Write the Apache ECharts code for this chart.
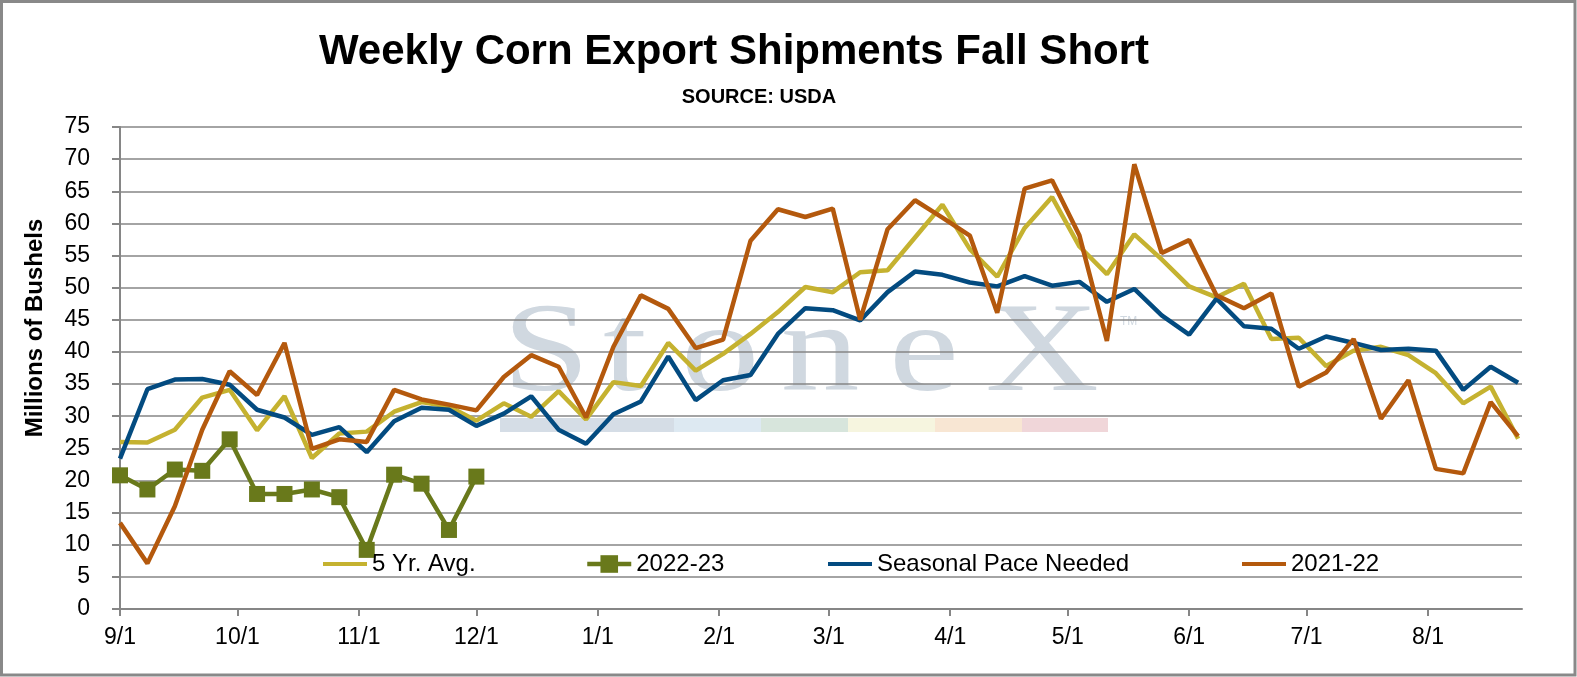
<!DOCTYPE html>
<html>
<head>
<meta charset="utf-8">
<script src="https://cdn.jsdelivr.net/npm/echarts@6/dist/echarts.min.js"></script>
<style>
html,body{margin:0;padding:0;background:#fff;}
#chart{width:1577px;height:677px;}
</style>
</head>
<body>
<div id="chart"></div>
<script>
// Weekly dates (week ending), 2022-23 marketing year
const weekDates = ['9/1','9/8','9/15','9/22','9/29','10/6','10/13','10/20','10/27','11/3','11/10','11/17','11/24',
  '12/1','12/8','12/15','12/22','12/29','1/5','1/12','1/19','1/26','2/2','2/9','2/16','2/23',
  '3/2','3/9','3/16','3/23','3/30','4/6','4/13','4/20','4/27','5/4','5/11','5/18','5/25',
  '6/1','6/8','6/15','6/22','6/29','7/6','7/13','7/20','7/27','8/3','8/10','8/17','8/24'];

const fiveYrAvg = [26.0,25.9,27.9,32.9,34.1,27.8,33.1,23.5,27.3,27.6,30.7,32.2,31.5,
  29.3,32.0,29.9,33.9,29.5,35.3,34.7,41.4,37.1,39.7,42.8,46.2,50.1,
  49.3,52.4,52.7,57.8,62.9,56.0,51.7,59.3,64.1,56.4,52.1,58.3,54.4,
  50.2,48.5,50.6,42.0,42.2,37.8,40.2,40.8,39.5,36.7,32.0,34.6,26.5];

const y2022_23 = [20.8,18.6,21.7,21.5,26.4,17.9,17.9,18.6,17.4,9.2,20.9,19.5,12.3,20.6];

const seasonalPace = [23.4,34.2,35.7,35.8,34.9,31.0,29.8,27.1,28.3,24.4,29.2,31.3,31.0,
  28.5,30.4,33.1,27.9,25.7,30.3,32.3,39.3,32.5,35.6,36.4,42.8,46.8,
  46.5,44.9,49.3,52.5,52.0,50.8,50.2,51.8,50.3,50.9,47.8,49.8,45.7,
  42.7,48.3,44.0,43.6,40.5,42.4,41.4,40.3,40.5,40.2,34.1,37.7,35.2];

const y2021_22 = [13.4,7.1,16.0,27.9,37.0,33.3,41.4,24.9,26.4,26.0,34.1,32.6,31.8,
  30.9,36.1,39.5,37.7,29.8,40.8,48.8,46.7,40.6,41.9,57.3,62.2,61.0,
  62.3,45.0,59.1,63.6,60.9,58.1,46.1,65.4,66.7,58.1,41.7,69.2,55.4,
  57.4,48.8,46.8,49.1,34.6,36.8,42.0,29.6,35.6,21.8,21.1,32.2,26.9];

const seriesNames = ['5 Yr. Avg.','2022-23','Seasonal Pace Needed','2021-22'];
const yTicks = {min:0, max:75, interval:5};

// daily category axis 9/1 .. 8/25
const dayLabels = [];
(function(){
  const d = new Date(2022, 8, 1);
  for (let i = 0; i < 359; i++) {
    dayLabels.push((d.getMonth()+1) + '/' + d.getDate());
    d.setDate(d.getDate()+1);
  }
})();
const isMonthStart = (idx, val) => String(val).split('/')[1] === '1';

const pair = (arr) => arr.map((v,i) => [weekDates[i], v]);

const FONT = 'Liberation Sans, Arial, sans-serif';
const GRAY = '#868686';
const C_YEL = '#C5B230', C_GRN = '#69791B', C_BLU = '#034B80', C_ORG = '#B4590D';
const LW = 4.5;

const chart = echarts.init(document.getElementById('chart'), null, {renderer:'canvas'});

const legendBase = {
  orient:'horizontal', padding:0, itemGap:0, itemWidth:44, top:552,
  selectedMode:false,
  textStyle:{fontFamily:FONT, fontSize:24, color:'#000'}
};
const lineLegend = (name, left) => Object.assign({}, legendBase, {
  data:[{name:name, icon:'rect'}], left:left, itemHeight:4
});

const wmColor = '#d0d8e0';
const wmLetters = [['S',546],['t',625],['o',720],['n',820],['e',924],['X',1042]];
const stripSegs = [[500,674,'#d5dde6'],[674,761,'#dde9f2'],[761,848,'#d7e5dc'],[848,935,'#f6f5df'],[935,1022,'#f8e6d3'],[1022,1108,'#f0d6d9']];

const graphics = [];
wmLetters.forEach(([ch,x]) => graphics.push({
  type:'text', x:x, y:357, z:-10, scaleX:1.25, silent:true,
  style:{text:ch, fontFamily:'Liberation Serif, DejaVu Serif, serif', fontSize:126, fill:wmColor, align:'center', verticalAlign:'middle'}
}));
graphics.push({type:'text', x:1120, y:316, z:-10, silent:true,
  style:{text:'TM', fontFamily:FONT, fontSize:12, fill:wmColor, align:'left', verticalAlign:'top'}});
stripSegs.forEach(([x0,x1,c]) => graphics.push({
  type:'rect', z:-10, silent:true, shape:{x:x0, y:418, width:x1-x0, height:14}, style:{fill:c}
}));
graphics.push({type:'text', x:734, y:52, silent:true,
  style:{text:'Weekly Corn Export Shipments Fall Short', fontFamily:FONT, fontWeight:'bold', fontSize:42, fill:'#000', align:'center', verticalAlign:'middle'}});
graphics.push({type:'text', x:759, y:97, silent:true,
  style:{text:'SOURCE: USDA', fontFamily:FONT, fontWeight:'bold', fontSize:20, fill:'#000', align:'center', verticalAlign:'middle'}});
graphics.push({type:'text', x:35, y:328, rotation:Math.PI/2, silent:true,
  style:{text:'Millions of Bushels', fontFamily:FONT, fontWeight:'bold', fontSize:24, fill:'#000', align:'center', verticalAlign:'middle'}});
graphics.push({type:'rect', silent:true, shape:{x:1.5, y:1.5, width:1573.5, height:673.5},
  style:{fill:'none', stroke:'#898989', lineWidth:3}});

const option = {
  backgroundColor:'#fff',
  animation:false,
  grid:{left:120, right:55, top:127, bottom:68, containLabel:false},
  graphic:{elements:graphics},
  legend:[
    lineLegend(seriesNames[0], 323),
    Object.assign({}, legendBase, {data:[seriesNames[1]], left:585, itemHeight:22,
      lineStyle:{width:LW, color:C_GRN}}),
    lineLegend(seriesNames[2], 828),
    lineLegend(seriesNames[3], 1242)
  ],
  xAxis:{
    type:'category', data:dayLabels, boundaryGap:false,
    axisLine:{show:true, onZero:false, lineStyle:{color:GRAY, width:2}},
    axisTick:{show:true, interval:isMonthStart, length:7, inside:false, lineStyle:{color:GRAY, width:2}},
    axisLabel:{interval:isMonthStart, margin:17, fontFamily:FONT, fontSize:23, color:'#000', hideOverlap:false},
    splitLine:{show:false}
  },
  yAxis:{
    type:'value', min:yTicks.min, max:yTicks.max, interval:yTicks.interval,
    axisLine:{show:true, lineStyle:{color:GRAY, width:2}},
    axisTick:{show:true, length:8, lineStyle:{color:GRAY, width:2}},
    axisLabel:{margin:30, fontFamily:FONT, fontSize:23, color:'#000'},
    splitLine:{show:true, lineStyle:{color:GRAY, width:1.7}}
  },
  series:[
    {name:seriesNames[0], type:'line', data:pair(fiveYrAvg), symbol:'none', z:2,
      lineStyle:{color:C_YEL, width:LW}, itemStyle:{color:C_YEL}},
    {name:seriesNames[1], type:'line', data:pair(y2022_23), symbol:'rect', symbolSize:16,
      showSymbol:true, showAllSymbol:true, z:3,
      lineStyle:{color:C_GRN, width:LW}, itemStyle:{color:C_GRN}},
    {name:seriesNames[2], type:'line', data:pair(seasonalPace), symbol:'none', z:4,
      lineStyle:{color:C_BLU, width:LW}, itemStyle:{color:C_BLU}},
    {name:seriesNames[3], type:'line', data:pair(y2021_22), symbol:'none', z:5,
      lineStyle:{color:C_ORG, width:LW}, itemStyle:{color:C_ORG}}
  ]
};
chart.setOption(option);
</script>
</body>
</html>
